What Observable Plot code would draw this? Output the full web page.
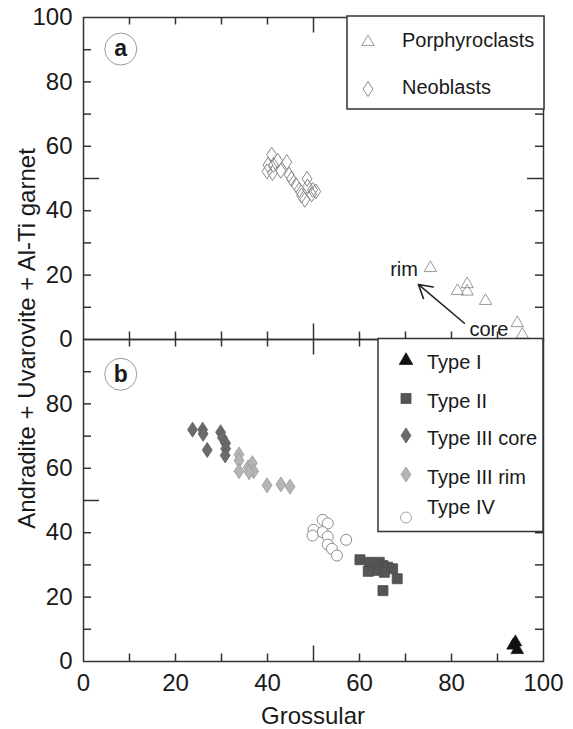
<!DOCTYPE html>
<html><head><meta charset="utf-8">
<script src="https://cdn.jsdelivr.net/npm/d3@7"></script>
<script src="https://cdn.jsdelivr.net/npm/@observablehq/plot@0.6"></script>
<style>
body{margin:0;background:#fff}
#chart{position:relative;width:573px;height:729px}
</style>
</head><body><div id="chart"></div>
<script>
// ---------- data ----------
// Panel a
const porphyroclastX = [75.4, 81.3, 83.4, 83.4, 87.4, 94.3, 95.4];
const porphyroclastY = [22.2, 15.1, 17.2, 14.9, 12.0, 5.1, 1.5];
const neoblastX = [40.9, 40.1, 41.3, 39.9, 41.1, 42.2, 44.2, 42.9, 44.7, 45.2, 46.2, 46.9, 48.6, 48.7, 47.4, 49.8, 50.5, 48.1, 49.6];
const neoblastY = [57.4, 54.2, 54.2, 52.2, 51.7, 55.5, 55.1, 52.4, 51.2, 49.9, 48.0, 46.5, 49.9, 47.5, 44.7, 46.5, 46.0, 43.4, 45.1];
// Panel b
const type1X = [93.9, 93.4, 94.3];
const type1Y = [6.0, 5.0, 3.6];
const type2X = [60.1, 62.2, 61.9, 64.3, 65.1, 64.0, 66.1, 67.2, 65.4, 68.2, 65.1];
const type2Y = [31.6, 30.8, 28.0, 30.8, 29.8, 28.3, 29.3, 28.8, 27.7, 25.7, 22.0];
const type3CoreX = [23.7, 25.9, 26.0, 26.9, 29.8, 30.2, 30.9, 30.9, 30.8];
const type3CoreY = [72.0, 72.0, 70.7, 65.7, 71.2, 69.5, 67.8, 66.1, 64.0];
const type3RimX = [33.8, 33.8, 33.8, 35.8, 36.7, 37.0, 36.0, 39.9, 42.9, 44.9];
const type3RimY = [64.3, 62.4, 59.1, 60.3, 61.6, 59.1, 58.8, 54.7, 55.0, 54.3];
const type4X = [52.0, 53.1, 50.0, 52.0, 49.8, 53.1, 53.1, 54.0, 55.1, 57.1];
const type4Y = [44.0, 42.9, 40.9, 40.2, 39.1, 38.8, 36.3, 35.0, 32.9, 37.8];

// ticks and labels
const panels = ["a", "b"];
const xTickLabels = [0, 20, 40, 60, 80, 100];
const yTickLabelsA = [0, 20, 40, 60, 80, 100];
const yTickLabelsB = [0, 20, 40, 60, 80];
const minorTicks = [10, 20, 30, 40, 60, 70, 80, 90];
const majorTicks = [50];
const xTitle = "Grossular";
const yTitle = "Andradite + Uvarovite + Al-Ti garnet";

// annotations (data units)
const panelLabelText = ["a", "b"];
const panelLabelX = [8.1, 8.1];
const panelLabelY = [90.2, 89.2];
const rimLabel = {text: "rim", x: 72.7, y: 21.6};
const coreLabel = {text: "core", x: 83.9, y: 3.0};
const arrowFrom = [82.8, 5.05];
const arrowTo = [72.8, 17.1];

// legends
const legendA = ["Porphyroclasts", "Neoblasts"];
const legendB = ["Type I", "Type II", "Type III core", "Type III rim", "Type IV"];

// ---------- helpers ----------
const zip = (xs, ys, panel) => xs.map((x, i) => ({x, y: ys[i], panel}));
const porph = zip(porphyroclastX, porphyroclastY, "a");
const neo = zip(neoblastX, neoblastY, "a");
const t1 = zip(type1X, type1Y, "b");
const t2 = zip(type2X, type2Y, "b");
const t3c = zip(type3CoreX, type3CoreY, "b");
const t3r = zip(type3RimX, type3RimY, "b");
const t4 = zip(type4X, type4Y, "b");
const yLabels = [
  ...yTickLabelsA.map(v => ({v, panel: "a"})),
  ...yTickLabelsB.map(v => ({v, panel: "b"}))
];
const panelLabels = panels.map((p, i) => ({panel: p, text: panelLabelText[i], x: panelLabelX[i], y: panelLabelY[i]}));
const arrows = [{panel: "a", x1: arrowFrom[0], y1: arrowFrom[1], x2: arrowTo[0], y2: arrowTo[1]}];

const tallDiamond = {
  draw(ctx, size) {
    const r = Math.sqrt(size / Math.PI);
    const hw = r * 0.66;
    ctx.moveTo(0, -r); ctx.lineTo(hw, 0); ctx.lineTo(0, r); ctx.lineTo(-hw, 0); ctx.closePath();
  }
};

// ---------- layout ----------
const W = 573, H = 729, mL = 83, mR = 30, mT = 16, mB = 68;
const fw = W - mL - mR;
const fh = (H - mT - mB) / 2;
const tickLen = 8, majorLen = 16;
const axisColor = "#333";
const textColor = "#1a1a1a";
const FONT = "'Liberation Sans', Arial, Helvetica, sans-serif";

const tickStyle = {stroke: axisColor, strokeWidth: 1.5};

const plot = Plot.plot({
  width: W, height: H,
  marginLeft: mL, marginRight: mR, marginTop: mT, marginBottom: mB,
  style: {fontFamily: FONT, fontSize: "24px", color: textColor, background: "#fff", overflow: "visible"},
  x: {domain: [0, 100]},
  y: {domain: [0, 100], axis: null},
  fy: {domain: panels, padding: 0, axis: null, label: null},
  marks: [
    // inward ticks on all four sides of each panel
    Plot.ruleY(minorTicks, {...tickStyle, insetRight: fw - tickLen}),
    Plot.ruleY(minorTicks, {...tickStyle, insetLeft: fw - tickLen}),
    Plot.ruleY(majorTicks, {...tickStyle, insetRight: fw - majorLen}),
    Plot.ruleY(majorTicks, {...tickStyle, insetLeft: fw - majorLen}),
    Plot.ruleX(minorTicks, {...tickStyle, insetTop: fh - tickLen}),
    Plot.ruleX(minorTicks, {...tickStyle, insetBottom: fh - tickLen}),
    Plot.ruleX(majorTicks, {...tickStyle, insetTop: fh - majorLen}),
    Plot.ruleX(majorTicks, {...tickStyle, insetBottom: fh - majorLen}),
    Plot.frame({stroke: axisColor, strokeWidth: 1.5}),
    // y tick labels
    Plot.text(yLabels, {fy: "panel", y: "v", text: d => String(d.v), frameAnchor: "left", textAnchor: "end", dx: -11, fontSize: 24, fill: textColor}),
    // x axis labels
    Plot.axisX(xTickLabels, {tickSize: 0, tickPadding: 12, fontSize: 24, label: null, fill: textColor}),
    // panel labels
    Plot.dot(panelLabels, {fy: "panel", x: "x", y: "y", r: 16, stroke: "#9a9a9a", strokeWidth: 1, fill: "none"}),
    Plot.text(panelLabels, {fy: "panel", x: "x", y: "y", text: "text", fontSize: 23, fontWeight: "bold", fontFamily: "Liberation Sans, Arial, sans-serif", fill: textColor}),
    // panel a data
    Plot.dot(neo, {fy: "panel", x: "x", y: "y", symbol: tallDiamond, r: 7.5, stroke: "#8a8a8a", strokeWidth: 1, fill: "none"}),
    Plot.dot(porph, {fy: "panel", x: "x", y: "y", symbol: "triangle", r: 4.6, stroke: "#9a9a9a", strokeWidth: 1, fill: "none"}),
    // annotation
    Plot.arrow(arrows, {fy: "panel", x1: "x1", y1: "y1", x2: "x2", y2: "y2", stroke: "#222", strokeWidth: 1.6, headLength: 14}),
    Plot.text([rimLabel], {fy: () => "a", x: "x", y: "y", text: "text", textAnchor: "end", fontSize: 20, fill: textColor}),
    Plot.text([coreLabel], {fy: () => "a", x: "x", y: "y", text: "text", textAnchor: "start", fontSize: 20, fill: textColor}),
    // panel b data
    Plot.dot(t4, {fy: "panel", x: "x", y: "y", symbol: "circle", r: 5.5, stroke: "#8c8c8c", strokeWidth: 1, fill: "#fff"}),
    Plot.dot(t2, {fy: "panel", x: "x", y: "y", symbol: "square", r: 5.64, stroke: "#4d4d4d", strokeWidth: 0.8, fill: "#555"}),
    Plot.dot(t3c, {fy: "panel", x: "x", y: "y", symbol: tallDiamond, r: 7.5, stroke: "#5c5c5c", strokeWidth: 0.8, fill: "#6b6b6b"}),
    Plot.dot(t3r, {fy: "panel", x: "x", y: "y", symbol: tallDiamond, r: 7.5, stroke: "#999", strokeWidth: 0.8, fill: "#b5b5b5"}),
    Plot.dot(t1, {fy: "panel", x: "x", y: "y", symbol: "triangle", r: 4.8, stroke: "#111", strokeWidth: 0.5, fill: "#111"})
  ]
});

document.getElementById("chart").appendChild(plot);

// ---------- titles and legends (layout only) ----------
const svg = d3.select(plot);
const frameLeft = mL, frameRight = W - mR, frameTop = mT, frameMid = mT + fh, frameBottom = H - mB;

svg.append("text")
  .attr("transform", `translate(26,${(frameTop + frameBottom) / 2}) rotate(-90)`)
  .attr("text-anchor", "middle").attr("dominant-baseline", "central")
  .attr("font-size", 24).attr("fill", textColor).text(yTitle);
svg.append("text")
  .attr("x", (frameLeft + frameRight) / 2).attr("y", 715)
  .attr("text-anchor", "middle").attr("dominant-baseline", "central")
  .attr("font-size", 24).attr("fill", textColor).text(xTitle);

function symPath(type, size) { return d3.symbol(type, size)(); }
const triSize = Math.PI * 4.6 * 4.6;
const diaSize = Math.PI * 7.5 * 7.5;

// legend a
{
  const g = svg.append("g").attr("text-anchor", "start");
  const bx = frameRight - 196, by = frameTop, bw = 197, bh = 93;
  g.append("rect").attr("x", bx).attr("y", by).attr("width", bw).attr("height", bh)
    .attr("fill", "#fff").attr("stroke", axisColor).attr("stroke-width", 1.5);
  const items = [
    {label: legendA[0], d: symPath(d3.symbolTriangle, triSize), fill: "none", stroke: "#9a9a9a", dy: 26},
    {label: legendA[1], d: symPath(tallDiamond, diaSize), fill: "none", stroke: "#8a8a8a", dy: 73}
  ];
  items.forEach(it => {
    g.append("path").attr("d", it.d).attr("transform", `translate(${bx + 21},${by + it.dy})`)
      .attr("fill", it.fill).attr("stroke", it.stroke);
    g.append("text").attr("x", bx + 55).attr("y", by + it.dy - 2).attr("dominant-baseline", "central")
      .attr("text-anchor", "start")
      .attr("font-size", 20).attr("fill", textColor).text(it.label);
  });
}
// legend b
{
  const g = svg.append("g").attr("text-anchor", "start");
  const bx = 378, by = frameMid, bw = frameRight - 378, bh = 193;
  g.append("rect").attr("x", bx).attr("y", by).attr("width", bw).attr("height", bh)
    .attr("fill", "#fff").attr("stroke", axisColor).attr("stroke-width", 1.5);
  const items = [
    {label: legendB[0], d: symPath(d3.symbolTriangle, Math.PI * 25), fill: "#111", stroke: "#111", sy: 22, ty: 23},
    {label: legendB[1], d: symPath(d3.symbolSquare, 100), fill: "#555", stroke: "#4d4d4d", sy: 60, ty: 62},
    {label: legendB[2], d: symPath(tallDiamond, diaSize), fill: "#6b6b6b", stroke: "#5c5c5c", sy: 97, ty: 99},
    {label: legendB[3], d: symPath(tallDiamond, diaSize), fill: "#b5b5b5", stroke: "#999", sy: 136, ty: 138},
    {label: legendB[4], d: symPath(d3.symbolCircle, Math.PI * 30), fill: "#fff", stroke: "#8c8c8c", sy: 179, ty: 168}
  ];
  items.forEach(it => {
    g.append("path").attr("d", it.d).attr("transform", `translate(${bx + 28},${by + it.sy})`)
      .attr("fill", it.fill).attr("stroke", it.stroke).attr("stroke-width", 0.8);
    g.append("text").attr("x", bx + 49).attr("y", by + it.ty).attr("dominant-baseline", "central")
      .attr("text-anchor", "start")
      .attr("font-size", 20).attr("fill", textColor).text(it.label);
  });
}
</script>
</body></html>
